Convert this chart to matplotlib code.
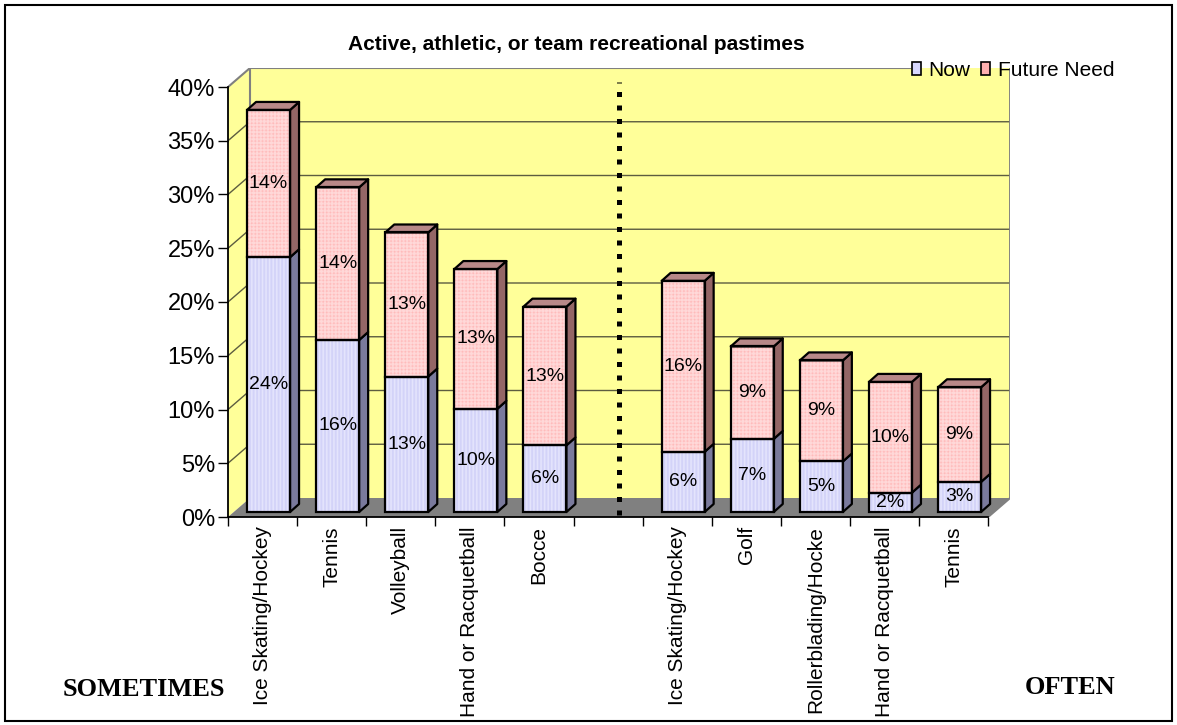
import matplotlib
matplotlib.use("Agg")
import matplotlib.pyplot as plt
from matplotlib.patches import Polygon, Rectangle, Patch
import numpy as np

# ---------------- data ----------------
categories = ["Ice Skating/Hockey", "Tennis", "Volleyball", "Hand or Racquetball", "Bocce", "",
              "Ice Skating/Hockey", "Golf", "Rollerblading/Hocke", "Hand or Racquetball", "Tennis"]
now_vals = [23.7, 16.0, 12.6, 9.6, 6.2, np.nan, 5.6, 6.8, 4.7, 1.8, 2.8]
future_vals = [13.7, 14.2, 13.4, 13.0, 12.9, np.nan, 15.9, 8.6, 9.4, 10.3, 8.8]
series_names = ["Now", "Future Need"]
ytick_vals = [0, 5, 10, 15, 20, 25, 30, 35, 40]
ytick_labels = ["0%", "5%", "10%", "15%", "20%", "25%", "30%", "35%", "40%"]
title = "Active, athletic, or team recreational pastimes"
group_left = "SOMETIMES"
group_right = "OFTEN"

plt.rcParams["font.family"] = ["Liberation Sans", "DejaVu Sans"]
plt.rcParams["hatch.linewidth"] = 0.45

W, H = 1177, 725
fig = plt.figure(figsize=(W / 100, H / 100), dpi=100)

# geometry (pixels)
x0, slot, y0, ppv = 228, 69.1, 517, 10.75
n = len(categories)
DX, DY = 22 / slot, 19 / ppv
ymax = ytick_vals[-1]

ax = fig.add_axes([x0 / W, (H - y0) / H, (n + DX) * slot / W, (ymax + DY) * ppv / H])
ax.set_xlim(0, n + DX)
ax.set_ylim(0, ymax + DY)
ax.patch.set_visible(False)

YELLOW = "#FFFF99"
FLOOR = "#808080"
EDGE = "#808080"
GRID = "#5c5c40"

# walls and floor
ax.add_patch(Polygon([(DX, DY), (n + DX, DY), (n + DX, ymax + DY), (DX, ymax + DY)],
                     closed=True, fc=YELLOW, ec="none", zorder=0))
ax.add_patch(Polygon([(0, 0), (DX, DY), (DX, ymax + DY), (0, ymax)],
                     closed=True, fc=YELLOW, ec="none", zorder=0))
ax.add_patch(Polygon([(0, 0), (n, 0), (n + DX, DY), (DX, DY)],
                     closed=True, fc=FLOOR, ec="none", zorder=0.5))
for v in ytick_vals[1:-1]:
    ax.plot([0, DX, n + DX], [v, v + DY, v + DY], color=GRID, lw=1.0, zorder=0.6)
ax.plot([DX, DX], [DY, ymax + DY], color=EDGE, lw=1.5, zorder=0.7)
ax.plot([n + DX, n + DX, n], [ymax + DY, DY, 0], color=EDGE, lw=1.5, zorder=0.7)
ax.plot([0, DX], [ymax, ymax + DY], color=EDGE, lw=1.5, zorder=0.7)

# axes styling
for s in ["top", "right"]:
    ax.spines[s].set_visible(False)
ax.spines["left"].set_bounds(0, ymax)
ax.spines["bottom"].set_bounds(0, n)
ax.spines["left"].set_linewidth(1.3)
ax.spines["bottom"].set_linewidth(1.3)
ax.spines["left"].set_zorder(0.8)
ax.spines["bottom"].set_zorder(0.8)
ax.set_yticks(ytick_vals)
ax.set_yticklabels(ytick_labels, fontsize=17)
ax.tick_params(axis="y", direction="out", length=7.2, width=1.0, pad=2.2)
ax.set_xticks(np.arange(n + 1))
ax.set_xticklabels([])
ax.set_xticks(np.arange(n) + 0.5, minor=True)
ax.set_xticklabels(categories, minor=True, rotation=90, fontsize=15)
ax.tick_params(axis="x", which="major", direction="out", length=6.5, width=1.0)
ax.tick_params(axis="x", which="minor", length=0, pad=6.5)

# bars
bw = 43 / slot
boff = 6 / slot
base = 5 / ppv
bdx, bdy = 9 / slot, 8 / ppv
xs = np.arange(n) + 0.5 + boff
now = np.array(now_vals)
fut = np.array(future_vals)

NOW_FC, NOW_HATCH, NOW_SIDE = "#EEEEFF", "#C4C4F4", "#7A7A9C"
FUT_FC, FUT_HATCH, FUT_SIDE, FUT_TOP = "#FFA2A2", "#FFD8D8", "#946666", "#B88888"

ax.bar(xs, now, bw, bottom=base, color=NOW_FC, edgecolor=NOW_HATCH, lw=0,
       hatch="|" * 12, zorder=3)
ax.bar(xs, now, bw, bottom=base, fill=False, edgecolor="black", lw=1.6, zorder=3.6)
ax.bar(xs, fut, bw, bottom=base + now, color=FUT_FC, edgecolor=FUT_HATCH, lw=0,
       hatch="+" * 12, zorder=3)
ax.bar(xs, fut, bw, bottom=base + now, fill=False, edgecolor="black", lw=1.6, zorder=3.6)

for i in range(n):
    if np.isnan(now[i]):
        continue
    xl = xs[i] - bw / 2
    xr = xs[i] + bw / 2
    b0, b1, b2 = base, base + now[i], base + now[i] + fut[i]
    for (bb, tt, col) in [(b0, b1, NOW_SIDE), (b1, b2, FUT_SIDE)]:
        ax.add_patch(Polygon([(xr, bb), (xr + bdx, bb + bdy), (xr + bdx, tt + bdy), (xr, tt)],
                             closed=True, fc=col, ec="black", lw=1.6, joinstyle="round", zorder=3.4))
    ax.add_patch(Polygon([(xl, b2), (xr, b2), (xr + bdx, b2 + bdy), (xl + bdx, b2 + bdy)],
                         closed=True, fc=FUT_TOP, ec="black", lw=1.6, joinstyle="round", zorder=3.4))
    ax.text(xs[i], (b0 + b1) / 2, f"{round(now[i])}%", ha="center", va="center",
            fontsize=14, zorder=5)
    ax.text(xs[i], (b1 + b2) / 2, f"{round(fut[i])}%", ha="center", va="center",
            fontsize=14, zorder=5)

# dotted separator in the blank slot
sep = categories.index("")
ax.plot([sep + 0.5 + DX / 2] * 2, [0.2, ymax + DY * 0.27], color="black", lw=3.6,
        linestyle=(0, (1, 1.7)), dash_capstyle="butt", zorder=1)

# title & group labels
fig.text(576 / W, 1 - 45 / H, title, ha="center", va="center", fontsize=15, fontweight="bold")
fig.text(144 / W, 1 - 689 / H, group_left, ha="center", va="center", fontsize=19,
         fontweight="bold", family=["Liberation Serif", "DejaVu Serif"])
fig.text(1070 / W, 1 - 688 / H, group_right, ha="center", va="center", fontsize=19,
         fontweight="bold", family=["Liberation Serif", "DejaVu Serif"])

# legend
handles = [Patch(facecolor="#D8D8FF", edgecolor="black", lw=1.2),
           Patch(facecolor="#FFB0B0", edgecolor="black", lw=1.2)]
leg = fig.legend(handles, series_names, loc="center left", bbox_to_anchor=(912 / W, 1 - 70 / H),
                 ncol=2, frameon=False, fontsize=15, handlelength=0.45, handleheight=0.6,
                 handletextpad=0.35, columnspacing=0.5, borderpad=0, borderaxespad=0)

fig.canvas.draw()
bbl = leg.get_window_extent()
xstop = ax.transData.inverted().transform((bbl.x0 - 2, 0))[0]
ax.plot([DX, xstop], [ymax + DY, ymax + DY], color=EDGE, lw=1.5, zorder=0.7)

# outer border
fig.add_artist(Rectangle((5 / W, 4 / H), 1167 / W, 716 / H, transform=fig.transFigure,
                         fill=False, ec="black", lw=1.5))

fig.savefig("out.png", dpi=100)
